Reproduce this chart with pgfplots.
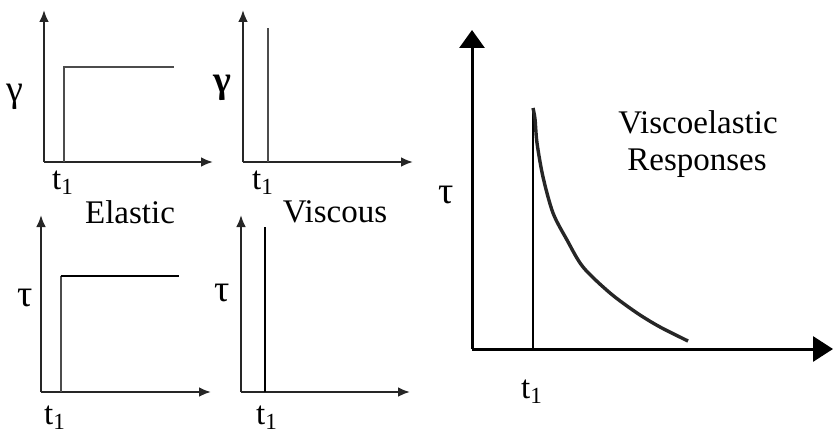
\documentclass[border=0pt]{standalone}
\usepackage{pgfplots}
\pgfplotsset{compat=1.18}
\usepackage{fontspec}
\setmainfont{Liberation Serif}
\usetikzlibrary{arrows.meta}
\pgfplotsset{
  panel/.style={
    x=0.5pt, y=0.5pt, axis lines*=left, enlargelimits=false,
    xtick=\empty, ytick=\empty, clip=false, anchor=south west,
    axis line style={line width=1.3pt, color=black!85},
    x axis line style={-{Latex[length=6pt,width=5pt]}},
    y axis line style={-{Latex[length=6pt,width=5pt]}},
  },
}
\newcommand{\bigsym}[1]{{\fontsize{19}{22}\selectfont #1}}
\begin{document}
\begin{tikzpicture}[font=\fontsize{16.5}{20}\selectfont]
\useasboundingbox (0,0) rectangle (416.5pt,217pt);
% Elastic strain
\begin{axis}[panel, at={(22pt,136pt)}, xmin=44, xmax=213, ymin=272, ymax=424]
\addplot[line width=1pt, color=black!70] coordinates {(64,272) (64,367) (174,367)};
\node at (axis cs:15,337) {\bigsym{γ}};
\node at (axis cs:63,251) {t\textsubscript{1}};
\node at (axis cs:130,222) {Elastic};
\end{axis}
% Viscous strain
\begin{axis}[panel, at={(121.5pt,136pt)}, xmin=243, xmax=413, ymin=272, ymax=424]
\addplot[line width=1pt, color=black!70] coordinates {(268,272) (268,406)};
\node at (axis cs:222,346) {\bigsym{\textbf{γ}}};
\node at (axis cs:263,251) {t\textsubscript{1}};
\node at (axis cs:335,222) {Viscous};
\end{axis}
% Elastic stress
\begin{axis}[panel, at={(20.5pt,21pt)}, xmin=41, xmax=211, ymin=42, ymax=219]
\addplot[line width=1pt, color=black!70] coordinates {(61,42) (61,158)};
\addplot[line width=1.4pt, color=black] coordinates {(60.5,158) (179,158)};
\node at (axis cs:25,136) {\bigsym{τ}};
\node at (axis cs:55,16) {t\textsubscript{1}};
\end{axis}
% Viscous stress
\begin{axis}[panel, at={(120.5pt,21pt)}, xmin=241, xmax=410, ymin=42, ymax=219]
\addplot[line width=1pt, color=black] coordinates {(265,42) (265,207)};
\node at (axis cs:222,141) {\bigsym{τ}};
\node at (axis cs:267,16) {t\textsubscript{1}};
\end{axis}
% Viscoelastic
\begin{axis}[panel, at={(236pt,42.5pt)}, xmin=472, xmax=833, ymin=85, ymax=404,
  axis line style={line width=1.5pt, color=black},
  x axis line style={-{Triangle[length=10pt,width=12.5pt]}},
  y axis line style={-{Triangle[length=9pt,width=12.5pt]}}]
\addplot[line width=1.3pt, color=black] coordinates {(533,85) (533,326)};
\addplot[line width=1.7pt, color=black!85, smooth] coordinates {(533,326) (535,315) (537,291) (543,257) (553,221) (567,194) (583,167) (610,141) (637,121) (660,107) (688,93)};
\node at (axis cs:446,239) {\bigsym{τ}};
\node at (axis cs:532,42) {t\textsubscript{1}};
\node at (axis cs:698,312) {Viscoelastic};
\node at (axis cs:697,271) {Responses};
\end{axis}
\end{tikzpicture}
\end{document}
